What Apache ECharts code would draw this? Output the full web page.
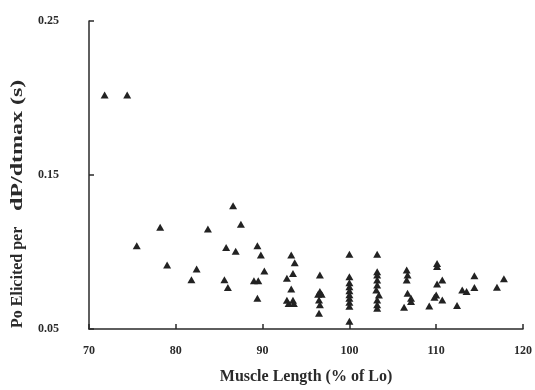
<!DOCTYPE html>
<html>
<head>
<meta charset="utf-8">
<script src="https://cdn.jsdelivr.net/npm/echarts@6/dist/echarts.min.js"></script>
<style>
  html, body { margin: 0; padding: 0; background: #fff; }
  #main { width: 535px; height: 390px; }
</style>
</head>
<body>
<div id="main"></div>
<script>
// muscle length (% of Lo)
var lengths = [
  71.8, 74.4, 75.5, 78.2, 79.0, 81.8, 82.4, 83.7, 85.8, 85.6,
  86.0, 86.6, 86.9, 87.5, 89.4, 89.8, 90.2, 89.0, 89.5, 89.4,
  93.3, 93.7, 93.5, 92.8, 93.3, 92.8, 93.5, 93.0, 93.6,
  96.6, 96.6, 96.4, 96.8, 96.5, 96.6, 96.5,
  100.0, 100.0, 100.0, 100.0, 100.0, 100.0, 100.0, 100.0, 100.0, 100.0,
  103.2, 103.2, 103.2, 103.2, 103.2, 103.1, 103.4, 103.2, 103.2, 103.2,
  106.6, 106.7, 106.6, 106.7, 107.1, 107.1, 106.3,
  109.2, 110.1, 110.1, 110.7, 110.1, 110.0, 109.8, 110.7,
  112.4, 113.0, 113.5, 114.4, 114.4, 117.0, 117.8
];
// Po elicited per dP/dtmax (s)
var times = [
  0.202, 0.202, 0.104, 0.116, 0.0915, 0.082, 0.089, 0.115, 0.103, 0.082,
  0.077, 0.130, 0.1005, 0.118, 0.104, 0.098, 0.0876, 0.0814, 0.0814, 0.070,
  0.098, 0.093, 0.086, 0.083, 0.076, 0.0687, 0.0687, 0.0665, 0.0665,
  0.085, 0.0743, 0.0726, 0.0726, 0.0689, 0.0657, 0.0603,
  0.0986, 0.084, 0.080, 0.0774, 0.0748, 0.0723, 0.070, 0.0674, 0.0648, 0.055,
  0.0986, 0.0872, 0.085, 0.0818, 0.0786, 0.0754, 0.0721, 0.0689, 0.0657, 0.0635,
  0.0883, 0.085, 0.0818, 0.0732, 0.070, 0.0679, 0.0642,
  0.0650, 0.0926, 0.0906, 0.0818, 0.0792, 0.0721, 0.0706, 0.0689,
  0.0653, 0.0754, 0.0743, 0.0846, 0.0769, 0.0771, 0.0827
];
var xTicks = [70, 80, 90, 100, 110, 120];
var yTicks = [0.05, 0.15, 0.25];

var points = lengths.map(function (x, i) { return [x, times[i]]; });

var serif = '"Liberation Serif", "DejaVu Serif", serif';
var ink = '#2a2a2a';

var chart = echarts.init(document.getElementById('main'));
chart.setOption({
  animation: false,
  backgroundColor: '#fff',
  grid: { left: 89, right: 7, top: 21, bottom: 59, containLabel: false },
  xAxis: {
    type: 'value',
    min: 70, max: 120, interval: 10,
    name: 'Muscle Length (% of Lo)',
    nameLocation: 'middle',
    nameGap: 40,
    nameTextStyle: { fontFamily: serif, fontWeight: 'bold', fontSize: 16, color: ink },
    axisLine: { lineStyle: { color: ink, width: 1.5 } },
    axisTick: { inside: true, length: 5, customValues: xTicks, lineStyle: { color: ink, width: 1.5 } },
    axisLabel: { customValues: xTicks, margin: 16, fontFamily: serif, fontWeight: 'bold', fontSize: 12, color: ink },
    splitLine: { show: false }
  },
  yAxis: {
    type: 'value',
    min: 0.05, max: 0.25, interval: 0.05,
    axisLine: { show: true, lineStyle: { color: ink, width: 1.5 } },
    axisTick: { show: true, inside: true, length: 5, customValues: yTicks, lineStyle: { color: ink, width: 1.5 } },
    axisLabel: {
      customValues: yTicks, margin: 30, fontFamily: serif, fontWeight: 'bold', fontSize: 12, color: ink,
      formatter: function (v) { return v.toFixed(2); }
    },
    splitLine: { show: false }
  },
  // y title is drawn in two pieces, the second one is stretched like in the original scan
  graphic: [{
    type: 'text',
    x: 18, y: 328,
    rotation: Math.PI / 2,
    style: {
      text: 'Po Elicited per',
      font: 'bold 16px ' + serif,
      fill: ink,
      textAlign: 'left',
      textVerticalAlign: 'middle'
    }
  }, {
    type: 'text',
    x: 18, y: 211,
    rotation: Math.PI / 2,
    scaleX: 1.5,
    style: {
      text: 'dP/dtmax (s)',
      font: 'bold 16px ' + serif,
      fill: ink,
      textAlign: 'left',
      textVerticalAlign: 'middle'
    }
  }],
  series: [{
    type: 'scatter',
    data: points,
    symbol: 'triangle',
    symbolSize: [8, 7],
    itemStyle: { color: '#222', opacity: 1 }
  }]
});
</script>
</body>
</html>
